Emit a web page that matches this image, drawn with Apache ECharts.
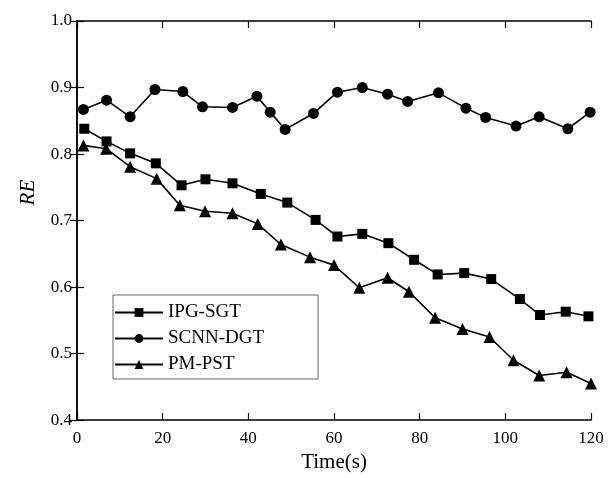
<!DOCTYPE html>
<html>
<head>
	<meta charset="utf-8">
	<title>RE vs Time</title>
	<script src="https://cdn.jsdelivr.net/npm/echarts@6/dist/echarts.min.js"></script>
	<style>
		html, body { margin: 0; padding: 0; background: #fff; }
		#chart { width: 611px; height: 478px; }
	</style>
</head>
<body>
	<div id="chart"></div>
	<script>
		// values
		var ipgTime = [1.7, 6.9, 12.4, 18.4, 24.4, 30, 36.3, 42.9, 49.1, 55.7, 60.8, 66.6, 72.7, 78.7, 84.2, 90.4, 96.7, 103.4, 108.1, 114.1, 119.4];
		var ipgRE = [0.838, 0.819, 0.801, 0.786, 0.753, 0.762, 0.756, 0.740, 0.727, 0.701, 0.676, 0.680, 0.666, 0.641, 0.619, 0.621, 0.612, 0.582, 0.558, 0.563, 0.556];

		var scnnTime = [1.5, 6.9, 12.4, 18.2, 24.7, 29.3, 36.3, 42, 45.1, 48.6, 55.2, 60.8, 66.6, 72.5, 77.2, 84.4, 90.8, 95.4, 102.5, 107.9, 114.6, 119.8];
		var scnnRE = [0.867, 0.881, 0.856, 0.897, 0.894, 0.871, 0.870, 0.887, 0.863, 0.837, 0.861, 0.893, 0.900, 0.890, 0.879, 0.892, 0.869, 0.855, 0.842, 0.856, 0.838, 0.863];

		var pmTime = [1.5, 6.8, 12.4, 18.6, 24, 29.9, 36.3, 42.2, 47.6, 54.4, 60, 65.9, 72.5, 77.5, 83.6, 90, 96.3, 101.9, 107.9, 114.3, 120];
		var pmRE = [0.813, 0.808, 0.781, 0.763, 0.723, 0.714, 0.711, 0.695, 0.664, 0.645, 0.633, 0.599, 0.614, 0.593, 0.554, 0.537, 0.525, 0.490, 0.467, 0.472, 0.455];

		var seriesNames = ['IPG-SGT', 'SCNN-DGT', 'PM-PST'];

		function pairs(xs, ys) {
			var out = [];
			for (var i = 0; i < xs.length; i++) out.push([xs[i], ys[i]]);
			return out;
		}

		var serif = 'Liberation Serif';
		var axisLine = { show: true, lineStyle: { color: '#000', width: 1.5 } };
		var ticks = { show: true, inside: true, length: 7, lineStyle: { color: '#000', width: 1.2 } };

		function lineSeries(name, symbol, size, data) {
			return {
				name: name,
				type: 'line',
				data: data,
				symbol: symbol,
				symbolSize: size,
				showAllSymbol: true,
				lineStyle: { color: '#000', width: 1.6 },
				itemStyle: { color: '#000' },
				emphasis: { disabled: true },
				animation: false
			};
		}

		var myChart = echarts.init(document.getElementById('chart'));
		var option = {
			backgroundColor: '#fff',
			grid: { left: 77, right: 20, top: 21, bottom: 45 },
			legend: {
				orient: 'vertical',
				left: 113,
				top: 295,
				data: seriesNames,
				itemWidth: 48,
				itemHeight: 11,
				itemGap: 5,
				padding: [7, 54, 4, 1],
				borderColor: '#666',
				borderWidth: 1,
				textStyle: { fontFamily: serif, fontSize: 19, color: '#000', lineHeight: 21 }
			},
			xAxis: [{
				type: 'value',
				min: 0, max: 120, interval: 20,
				name: 'Time(s)',
				nameLocation: 'middle',
				nameGap: 28,
				nameTextStyle: { fontFamily: serif, fontSize: 21, color: '#000' },
				axisLine: axisLine,
				axisTick: ticks,
				axisLabel: { fontFamily: serif, fontSize: 17, color: '#000', margin: 10 },
				splitLine: { show: false }
			}, {
				type: 'value',
				position: 'top',
				min: 0, max: 120, interval: 20,
				axisLine: axisLine,
				axisTick: ticks,
				axisLabel: { show: false },
				splitLine: { show: false }
			}],
			yAxis: [{
				type: 'value',
				min: 0.4, max: 1.0, interval: 0.1,
				name: 'RE',
				nameLocation: 'middle',
				nameGap: 38,
				nameTextStyle: { fontFamily: serif, fontSize: 21, fontStyle: 'italic', color: '#000', padding: [0, 0, 0, 56] },
				axisLine: axisLine,
				axisTick: ticks,
				axisLabel: {
					fontFamily: serif, fontSize: 17, color: '#000', margin: 5,
					formatter: function (v) { return v.toFixed(1); }
				},
				splitLine: { show: false }
			}, {
				type: 'value',
				position: 'right',
				min: 0.4, max: 1.0, interval: 0.1,
				axisLine: axisLine,
				axisTick: ticks,
				axisLabel: { show: false },
				splitLine: { show: false }
			}],
			series: [
				lineSeries(seriesNames[0], 'rect', 10, pairs(ipgTime, ipgRE)),
				lineSeries(seriesNames[1], 'circle', 11, pairs(scnnTime, scnnRE)),
				lineSeries(seriesNames[2], 'triangle', 12, pairs(pmTime, pmRE))
			]
		};
		myChart.setOption(option);
	</script>
</body>
</html>
